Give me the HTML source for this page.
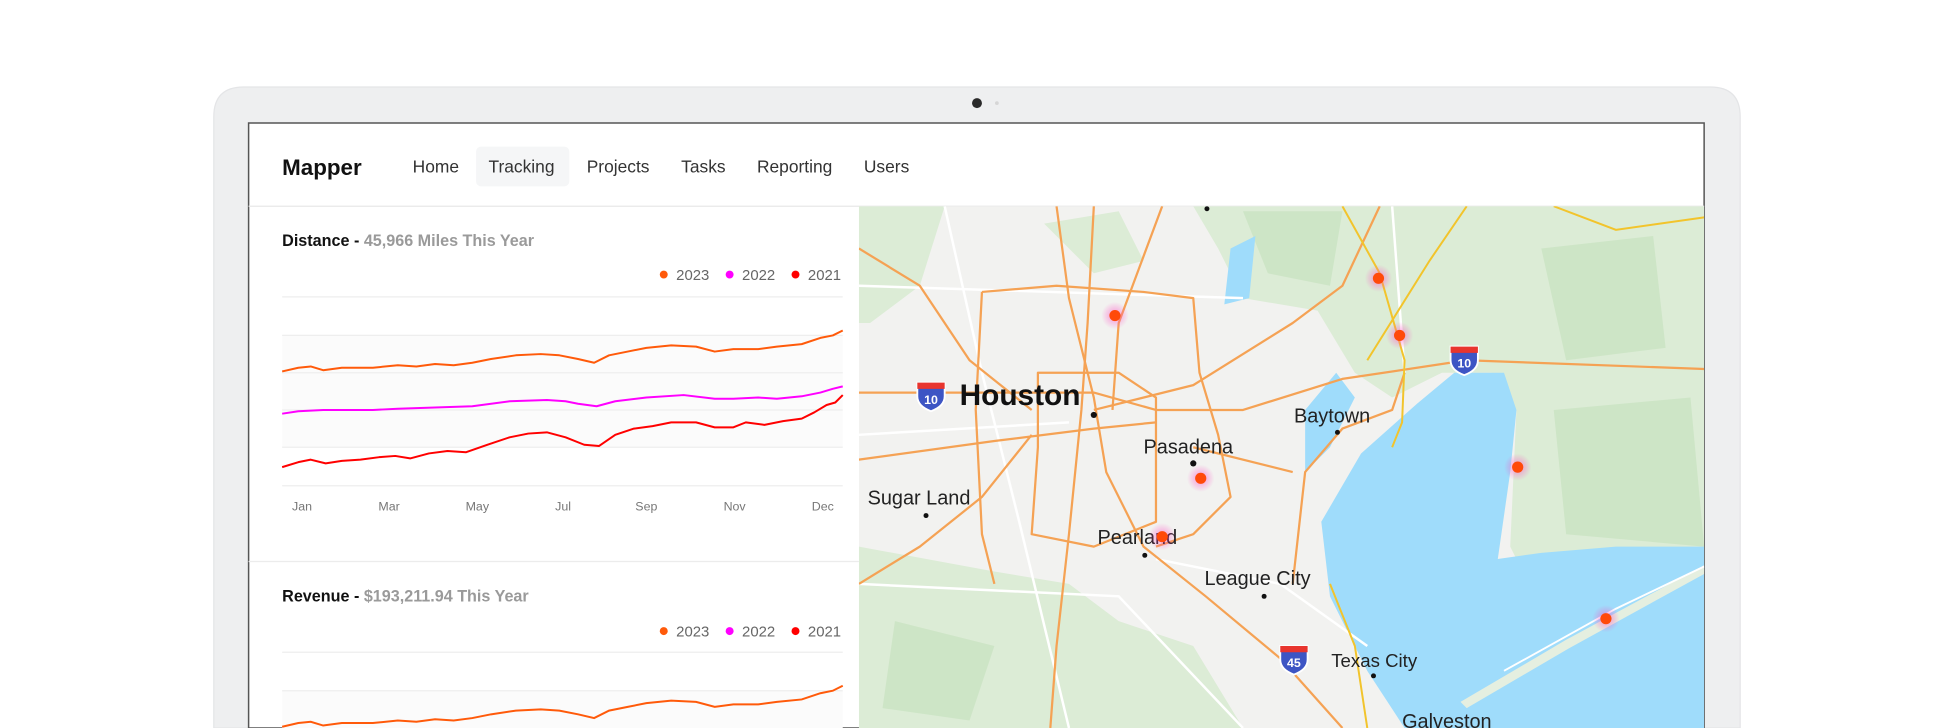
<!DOCTYPE html>
<html><head><meta charset="utf-8"><style>
html,body{margin:0;padding:0;background:#fff;width:1949px;height:728px;overflow:hidden}
svg{display:block}
text{font-family:"Liberation Sans",sans-serif}
</style></head><body>
<svg width="1949" height="728" viewBox="0 0 1568 586" preserveAspectRatio="none" xmlns="http://www.w3.org/2000/svg">
<defs>
<clipPath id="mapc"><rect x="691" y="166" width="680" height="420"/></clipPath>
<radialGradient id="glow"><stop offset="0" stop-color="#ff40c0" stop-opacity="0.55"/><stop offset="1" stop-color="#ff40c0" stop-opacity="0"/></radialGradient>
<g id="dot"><circle r="11" fill="url(#glow)"/><circle r="4.5" fill="#ff4a0a"/></g>
<g id="shield"><path d="M-11,-9 L11,-9 L11,2 Q11,10 0,14 Q-11,10 -11,2 Z" fill="#3d55c4" stroke="#fff" stroke-width="1.5"/><path d="M-11,-9 L11,-9 L11,-4 L-11,-4 Z" fill="#e8352e"/></g>
</defs>
<!-- laptop frame -->
<path d="M172,586 L172,94 Q172,70 196,70 L1376,70 Q1400,70 1400,94 L1400,586 Z" fill="#eeeff0" stroke="#e4e5e7"/>
<circle cx="786" cy="83" r="4" fill="#2a2a2a"/>
<circle cx="802" cy="83" r="1.5" fill="#d6d6d6"/>
<path d="M200,586 L200,99 L1371,99 L1371,586 Z" fill="#fff" stroke="#555" stroke-width="1.2"/>
<!-- nav -->
<text x="227" y="141" font-size="18" font-weight="bold" fill="#111">Mapper</text>
<rect x="383" y="118" width="75" height="32" rx="4" fill="#f5f6f7"/>
<g font-size="14" fill="#333">
<text x="332" y="139">Home</text><text x="393" y="139">Tracking</text><text x="472" y="139">Projects</text>
<text x="548" y="139">Tasks</text><text x="609" y="139">Reporting</text><text x="695" y="139">Users</text></g>
<line x1="200" y1="166" x2="1371" y2="166" stroke="#e8e8e8"/>
<!-- distance chart -->
<text x="227" y="198" font-size="13" font-weight="bold" fill="#111">Distance - <tspan fill="#9a9a9a">45,966 Miles This Year</tspan></text>
<g font-size="12" fill="#666">
<circle cx="534" cy="221" r="3.2" fill="#ff5a0a"/><text x="544" y="225.5">2023</text>
<circle cx="587" cy="221" r="3.2" fill="#ff00ff"/><text x="597" y="225.5">2022</text>
<circle cx="640" cy="221" r="3.2" fill="#ff0000"/><text x="650" y="225.5">2021</text></g>
<rect x="227" y="270" width="451" height="90" fill="#fbfbfb"/>
<g stroke="#eeeeee" stroke-width="1">
<line x1="227" x2="678" y1="239" y2="239"/><line x1="227" x2="678" y1="270" y2="270"/><line x1="227" x2="678" y1="300" y2="300"/>
<line x1="227" x2="678" y1="330" y2="330"/><line x1="227" x2="678" y1="360" y2="360"/><line x1="227" x2="678" y1="391" y2="391"/></g>
<g fill="none" stroke-width="1.6" stroke-linejoin="round">
<polyline id="or" stroke="#ff5a0a" points="227,299 240,296 250,295 260,298 275,296 300,296 320,294 335,295 350,293 365,294 380,292 395,289 415,286 435,285 450,286 465,289 478,292 490,286 505,283 520,280 540,278 560,279 575,283 590,281 610,281 625,279 645,277 660,272 670,270 678,266"/>
<polyline stroke="#ff00ff" points="227,333 240,331 260,330 275,330 300,330 320,329 350,328 380,327 410,323 440,322 455,323 465,325 480,327 495,323 520,320 550,318 575,321 590,321 610,320 625,321 645,319 660,316 670,313 678,311"/>
<polyline stroke="#ff0000" points="227,376 240,372 250,370 262,373 275,371 290,370 305,368 318,367 330,369 345,365 360,363 375,364 392,358 410,352 425,349 440,348 455,352 470,358 482,359 495,350 510,345 525,343 540,340 560,340 575,344 590,344 600,340 615,342 630,339 645,337 655,332 665,326 672,324 678,318"/>
</g>
<g font-size="10" fill="#777" text-anchor="middle">
<text x="243" y="411">Jan</text><text x="313" y="411">Mar</text><text x="384" y="411">May</text><text x="453" y="411">Jul</text>
<text x="520" y="411">Sep</text><text x="591" y="411">Nov</text><text x="662" y="411">Dec</text></g>
<line x1="200" y1="452" x2="691" y2="452" stroke="#ececec"/>
<!-- revenue chart -->
<text x="227" y="484" font-size="13" font-weight="bold" fill="#111">Revenue - <tspan fill="#9a9a9a">$193,211.94 This Year</tspan></text>
<g font-size="12" fill="#666">
<circle cx="534" cy="508" r="3.2" fill="#ff5a0a"/><text x="544" y="512.5">2023</text>
<circle cx="587" cy="508" r="3.2" fill="#ff00ff"/><text x="597" y="512.5">2022</text>
<circle cx="640" cy="508" r="3.2" fill="#ff0000"/><text x="650" y="512.5">2021</text></g>
<rect x="227" y="556" width="451" height="30" fill="#fbfbfb"/>
<g stroke="#eeeeee"><line x1="227" x2="678" y1="525" y2="525"/><line x1="227" x2="678" y1="556" y2="556"/></g>
<use href="#or" transform="translate(0,286)" fill="none" stroke-width="1.6"/>
<!-- map -->
<g clip-path="url(#mapc)">
<rect x="691" y="166" width="680" height="420" fill="#f2f2f0"/>
<g fill="#dcecd6">
<path d="M960,166 L1371,166 L1371,460 L1230,470 L1215,440 L1220,330 L1200,300 L1160,300 L1120,320 L1090,300 L1060,250 L1000,240 L980,200 Z"/>
<path d="M691,166 L760,166 L740,230 L700,260 L691,260 Z"/>
<path d="M691,440 L800,460 L860,470 L900,500 L960,520 L1000,586 L691,586 Z"/>
<path d="M840,180 L900,170 L920,210 L880,220 Z"/>
</g>
<g fill="#c9e4c2" opacity="0.8">
<path d="M1000,170 L1080,170 L1070,230 L1020,220 Z"/><path d="M1240,200 L1330,190 L1340,280 L1260,290 Z"/>
<path d="M1250,330 L1360,320 L1371,440 L1260,430 Z"/><path d="M720,500 L800,520 L780,580 L710,570 Z"/>
</g>
<path d="M1063,420 L1095,365 L1140,325 L1170,300 L1210,300 L1220,330 L1215,380 L1205,450 L1240,445 L1300,440 L1371,440 L1371,586 L1130,586 L1100,540 L1070,480 Z" fill="#9fdcfb"/>
<path d="M1050,330 L1075,300 L1090,320 L1070,360 L1050,380 Z M990,200 L1010,190 L1005,240 L985,245 Z" fill="#9fdcfb"/>
<path d="M1175,565 L1260,515 L1371,455 L1371,462 L1262,522 L1180,570 Z" fill="#e5efe0"/>
<path d="M1210,540 L1300,490 L1371,456" stroke="#fff" stroke-width="1.5" fill="none"/>
<g fill="none" stroke="#ffffff" stroke-width="2">
<path d="M691,230 L1000,240"/><path d="M691,470 L900,480 L1000,586"/><path d="M760,166 L790,300 L820,420 L860,586"/>
<path d="M1120,166 L1130,300"/><path d="M930,450 L1030,470 L1100,520"/><path d="M691,350 L860,340"/>
</g>
<g fill="none" stroke="#f5a254" stroke-width="1.8" stroke-linejoin="round">
<path d="M691,316 L880,316 L930,330 L1000,330 L1080,305 L1180,290 L1371,297"/>
<path d="M691,370 L800,355 L880,345 L930,340"/>
<path d="M850,166 L860,240 L880,320 L890,380 L920,440 L970,480 L1030,530 L1080,586"/>
<path d="M880,166 L875,260 L870,330 L860,430 L850,520 L845,586"/>
<path d="M935,166 L900,260 L895,330"/>
<path d="M790,235 L850,230 L920,235 L960,240 L965,300 L980,350 L990,400 L960,430 L930,440"/>
<path d="M790,235 L785,330 L790,430 L800,470"/>
<path d="M835,300 L900,300 L930,320 L930,420 L880,440 L830,430 L835,360 Z"/>
<path d="M880,330 L960,310 L1040,260 L1080,230 L1110,166"/>
<path d="M691,200 L740,230 L780,290 L830,330"/>
<path d="M691,470 L740,440 L790,400 L830,350"/>
<path d="M1040,470 L1050,380 L1080,345 L1120,330 L1130,300"/>
<path d="M960,360 L1040,380"/>
</g>
<g fill="none" stroke="#f2c42c" stroke-width="1.6">
<path d="M1080,166 L1110,220 L1130,290 L1128,340 L1120,360"/><path d="M1100,290 L1150,210 L1180,166"/>
<path d="M1070,470 L1090,520 L1100,586"/><path d="M1250,166 L1300,185 L1371,175"/>
</g>
<g font-size="16" fill="#222" font-family="'DejaVu Sans Condensed','Liberation Sans',sans-serif">
<text x="772" y="326" font-size="24" font-weight="bold" fill="#111">Houston</text>
<text x="920" y="365">Pasadena</text><text x="1041" y="340">Baytown</text>
<text x="698" y="406">Sugar Land</text><text x="883" y="438">Pearland</text>
<text x="969" y="471">League City</text><text x="1071" y="537" font-size="15">Texas City</text>
<text x="1128" y="586">Galveston</text></g>
<g fill="#111"><circle cx="880" cy="334" r="2.5"/><circle cx="960" cy="373" r="2.5"/><circle cx="1076" cy="348" r="2"/>
<circle cx="745" cy="415" r="2"/><circle cx="921" cy="447" r="2"/><circle cx="1017" cy="480" r="2"/><circle cx="1105" cy="544" r="2"/><circle cx="971" cy="168" r="2"/></g>
<use href="#shield" x="749" y="317"/><use href="#shield" x="1178" y="288"/><use href="#shield" x="1041" y="529"/>
<g font-size="10" font-weight="bold" fill="#fff" text-anchor="middle"><text x="749" y="325">10</text><text x="1178" y="296">10</text><text x="1041" y="537">45</text></g>
<use href="#dot" x="897" y="254"/><use href="#dot" x="1109" y="224"/><use href="#dot" x="1126" y="270"/>
<use href="#dot" x="966" y="385"/><use href="#dot" x="1221" y="376"/><use href="#dot" x="935" y="432"/><use href="#dot" x="1292" y="498"/>
</g>
</svg>
</body></html>
